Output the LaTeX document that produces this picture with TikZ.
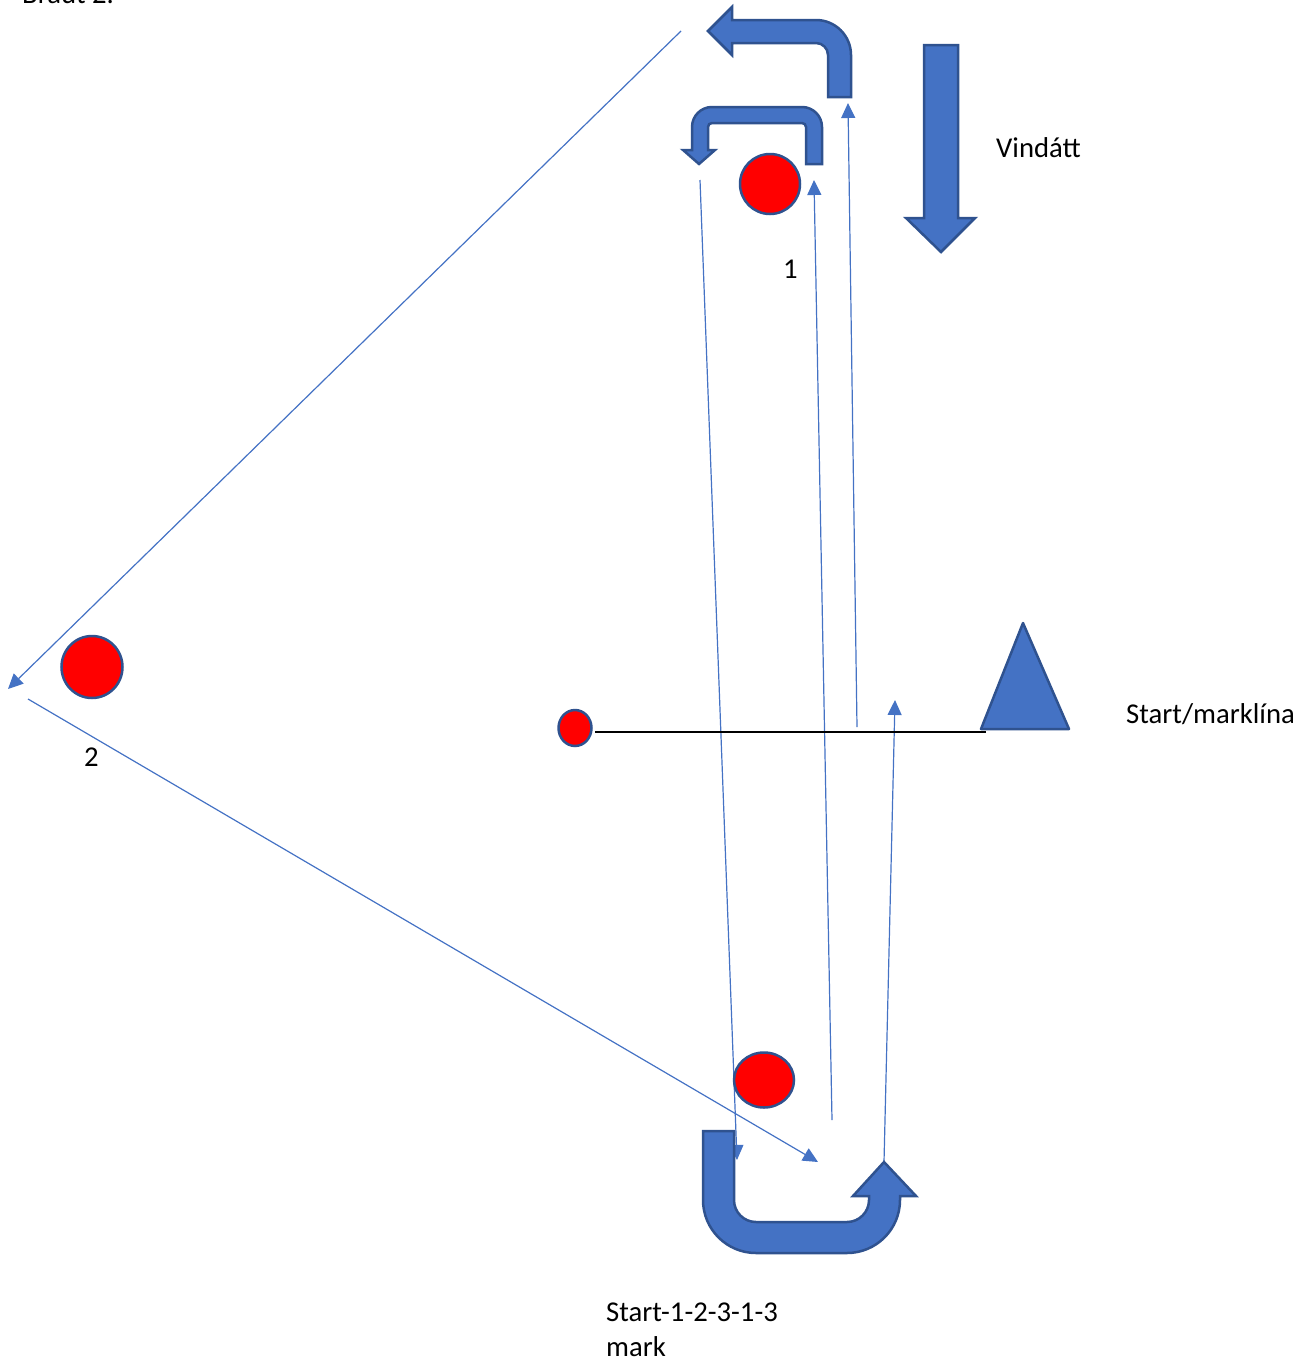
\documentclass[tikz,border=0pt]{standalone}
\usepackage{fontspec}
\setmainfont{Carlito}
\usetikzlibrary{arrows.meta,shapes.geometric}
\definecolor{kurs}{HTML}{4472C4}
\definecolor{kant}{HTML}{2F528F}

\begin{document}
\begin{tikzpicture}[
    x=1pt,y=-1pt,
    baujur/.style={
      draw=kant,fill=red,
      line width=2.5pt,
      ellipse,inner sep=0pt
    },
    leid/.style={
      color=kurs,line width=1.2pt,
      -{Triangle[length=15pt,width=14pt]}
    },
    pil/.style={draw=kant,fill=kurs,line width=2.5pt},
    merki/.style={anchor=base west,inner sep=0pt,
      font=\fontsize{28.7}{35}\selectfont},
  ]
  \useasboundingbox (0,0) rectangle (1312,1365);

  % points of the course
  \coordinate (a1) at (681,31);
  \coordinate (a2) at (8,689);
  \coordinate (b1) at (28,699);
  \coordinate (b2) at (818,1162);
  \coordinate (c1) at (700,180);
  \coordinate (c2) at (737,1160);
  \coordinate (d1) at (832,1120);
  \coordinate (d2) at (814,180);
  \coordinate (e1) at (857,727);
  \coordinate (e2) at (848,103);
  \coordinate (f1) at (884,1162);
  \coordinate (f2) at (895,700);

  \draw[leid]
    (a1) edge (a2)
    (b1) edge (b2)
    (c1) edge (c2)
    (d1) edge (d2)
    (e1) edge (e2)
    (f1) edge (f2);

  % marks
  \node[baujur,minimum width=60pt,minimum height=60pt] (bauja1) at (770,184) {};
  \node[baujur,minimum width=61pt,minimum height=62pt] (bauja2) at (92,667) {};
  \node[baujur,minimum width=60pt,minimum height=55pt] (bauja3) at (764,1080) {};
  \node[baujur,minimum width=33pt,minimum height=36pt] (startbauja) at (575,728) {};
  \coordinate (linubyrjun) at (595,732);
  \coordinate (linuendi) at (986,732);
  \draw[line width=2.6pt] (linubyrjun) -- (linuendi);
  \draw[pil,line join=round] (1023,623) coordinate (batur)
    -- (1069,729) -- (981,729) -- cycle;

  % wind
  \draw[pil] (924,45) -- (958,45) -- (958,218) -- (975,218)
    -- (941,252) -- (906,218) -- (924,218) -- cycle;

  % turns
  \draw[pil] (851,97) -- (851,55) arc[start angle=0,end angle=-90,radius=35]
    -- (732,20) -- (732,7) -- (708,31) -- (732,55) -- (732,43)
    -- (816,43) arc[start angle=-90,end angle=0,radius=12] -- (828,97) -- cycle;
  \draw[pil] (822,164) -- (822,127) arc[start angle=0,end angle=-90,radius=20]
    -- (712,107) arc[start angle=-90,end angle=-180,radius=20]
    -- (692,150) -- (683,150) -- (699,164) -- (715,150) -- (708,150)
    -- (708,127) arc[start angle=180,end angle=270,radius=4]
    -- (802,123) arc[start angle=270,end angle=360,radius=4] -- (806,164) -- cycle;
  \draw[pil] (703,1131) -- (703,1200) arc[start angle=180,end angle=90,radius=53]
    -- (847,1253) arc[start angle=90,end angle=0,radius=53]
    -- (900,1196) -- (916,1196) -- (884,1162) -- (853,1196) -- (869,1196)
    -- (869,1200) arc[start angle=0,end angle=90,radius=22]
    -- (756,1222) arc[start angle=90,end angle=180,radius=22]
    -- (734,1131) -- cycle;

  % texts
  \node[merki] (titill) at (22,3) {Braut 2.};
  \node[merki] (nr1) at (783,278) {1};
  \node[merki] (nr2) at (84,766) {2};
  \node[merki] (vindur) at (996,157) {Vindátt};
  \node[merki] (startlina) at (1126,723) {Start/marklína};
  \node[merki,align=left] (rod) at (606,1356) {Start-1-2-3-1-3\\mark};
\end{tikzpicture}
\end{document}
